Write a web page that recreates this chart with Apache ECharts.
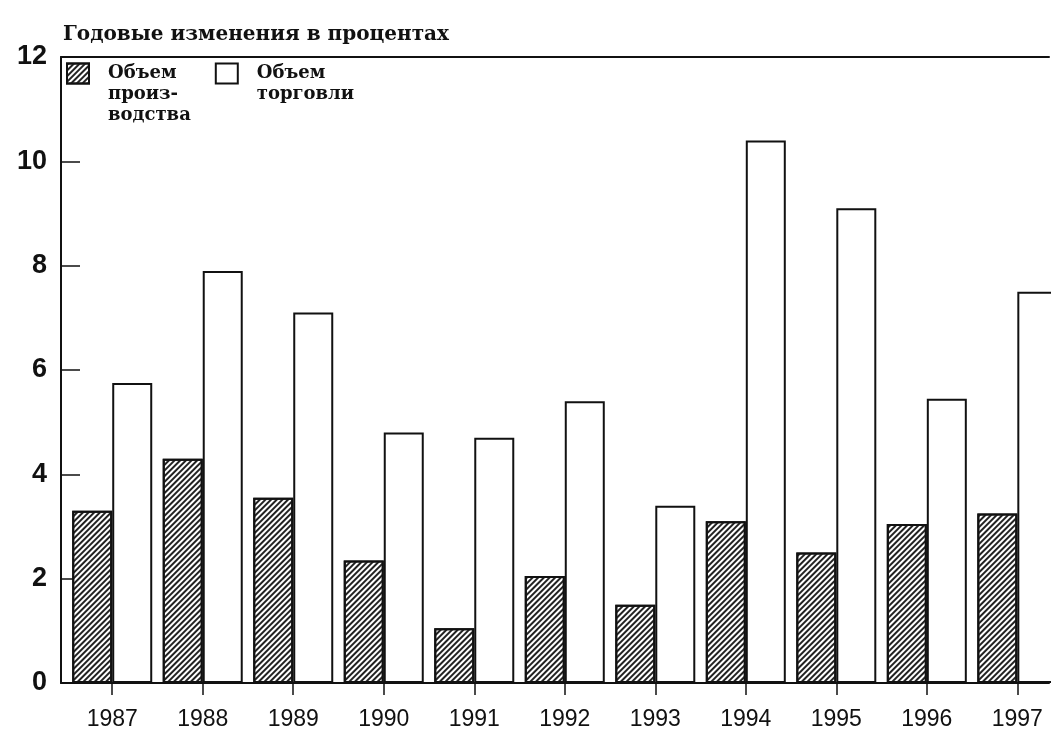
<!DOCTYPE html>
<html lang="ru">
<head>
    <meta charset="UTF-8">
    <title>Годовые изменения в процентах</title>
    <script src="https://cdn.jsdelivr.net/npm/echarts@6/dist/echarts.min.js"></script>
    <style type="text/css">
        html, body { margin: 0; padding: 0; background: #fff; }
        #main { width: 1051px; height: 734px; }
    </style>
</head>
<body>
<div id="main"></div>
<script>
    // годы (категории по оси X)
    var years = [1987, 1988, 1989, 1990, 1991, 1992, 1993, 1994, 1995, 1996, 1997];
    // объем производства, %
    var production = [3.3, 4.3, 3.55, 2.35, 1.05, 2.05, 1.5, 3.1, 2.5, 3.05, 3.25];
    // объем торговли, %
    var trade = [5.75, 7.9, 7.1, 4.8, 4.7, 5.4, 3.4, 10.4, 9.1, 5.45, 7.5];

    var nameProd = 'Объем\nпроиз-\nводства';
    var nameTrade = 'Объем\nторговли';

    function pairs(vals) {
        var res = [];
        for (var i = 0; i < years.length; i++) {
            res.push([years[i], vals[i]]);
        }
        return res;
    }

    var myChart = echarts.init(document.getElementById('main'));

    var option = {
        backgroundColor: '#fff',
        animation: false,
        title: {
            text: 'Годовые изменения в процентах',
            left: 58,
            top: 20,
            textStyle: {
                fontFamily: 'DejaVu Serif',
                fontWeight: 'bold',
                fontSize: 20,
                color: '#111'
            }
        },
        legend: {
            left: 61,
            top: 16,
            itemWidth: 22,
            itemHeight: 20,
            itemGap: 24,
            selectedMode: false,
            icon: 'rect',
            // пустые строки сверху, чтобы первая строка подписи стояла напротив значка
            formatter: function (name) {
                return name === nameProd ? '\n\n' + name : '\n' + name;
            },
            textStyle: {
                fontFamily: 'DejaVu Serif',
                fontWeight: 'bold',
                fontSize: 18,
                lineHeight: 21,
                color: '#111',
                padding: [0, 0, 0, 14]
            },
            data: [nameProd, nameTrade]
        },
        grid: {
            left: 61,
            right: 2,
            top: 57,
            bottom: 51
        },
        xAxis: [
            {
                type: 'value',
                min: 1986.434,
                max: 1997.35,
                axisLine: {show: true, lineStyle: {color: '#111', width: 2}},
                axisTick: {show: true, customValues: years, length: 12, lineStyle: {color: '#111', width: 1.5}},
                splitLine: {show: false},
                axisLabel: {
                    customValues: years,
                    margin: 25,
                    fontFamily: 'Liberation Sans',
                    fontSize: 23,
                    color: '#111',
                    formatter: function (v) { return String(v); }
                }
            },
            {
                // верхняя рамка
                type: 'value',
                position: 'top',
                min: 1986.434,
                max: 1997.35,
                axisLine: {show: true, lineStyle: {color: '#111', width: 2}},
                axisTick: {show: false},
                axisLabel: {show: false},
                splitLine: {show: false}
            }
        ],
        yAxis: {
            type: 'value',
            min: 0,
            max: 12,
            interval: 2,
            axisLine: {show: true, lineStyle: {color: '#111', width: 2}},
            axisTick: {show: true, inside: true, length: 19, lineStyle: {color: '#111', width: 1.5}},
            splitLine: {show: false},
            axisLabel: {
                margin: 14,
                fontFamily: 'Liberation Sans',
                fontWeight: 'bold',
                fontSize: 27,
                color: '#111'
            }
        },
        series: [
            {
                name: nameProd,
                type: 'bar',
                barWidth: 40,
                barGap: '0%',
                data: pairs(production),
                itemStyle: {
                    color: '#fff',
                    borderColor: '#111',
                    borderWidth: 2,
                    decal: {
                        symbol: 'rect',
                        symbolSize: 1,
                        color: '#222',
                        dashArrayX: [1, 0],
                        dashArrayY: [1.2, 2],
                        rotation: -Math.PI / 4
                    }
                }
            },
            {
                name: nameTrade,
                type: 'bar',
                barWidth: 40,
                barGap: '0%',
                data: pairs(trade),
                itemStyle: {
                    color: '#fff',
                    borderColor: '#111',
                    borderWidth: 2
                }
            }
        ]
    };

    myChart.setOption(option);
</script>
</body>
</html>
